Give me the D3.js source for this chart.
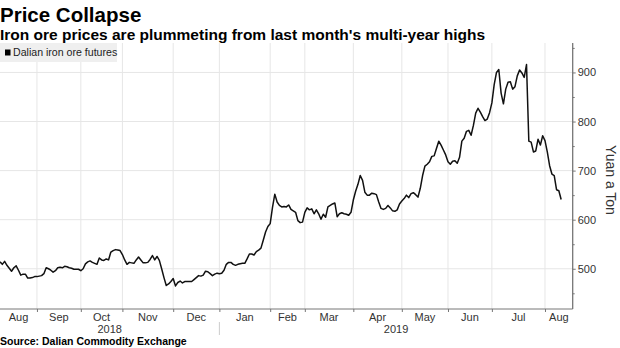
<!DOCTYPE html>
<html>
<head>
<meta charset="utf-8">
<script src="https://cdn.jsdelivr.net/npm/d3@7"></script>
<style>
  html, body { margin: 0; padding: 0; background: #fff; }
  svg { display: block; }
</style>
</head>
<body>
<svg id="chart" width="620" height="348"></svg>
<script>
// ---- Data ----
const title = "Price Collapse";
const subtitle = "Iron ore prices are plummeting from last month's multi-year highs";
const sourceText = "Source: Dalian Commodity Exchange";
const seriesName = "Dalian iron ore futures";
const axisTitle = "Yuan a Ton";

// month labels and number of trading days in each month shown (axis categories)
const monthLabels = ["Aug","Sep","Oct","Nov","Dec","Jan","Feb","Mar","Apr","May","Jun","Jul","Aug"];
const monthTradingDays = [16,19,18,22,20,22,15,21,21,20,19,23,12];
const yearLabels = ["2018","2019"];
const yearMonthCounts = [5, 8];

const yTicks = [500, 600, 700, 800, 900];
const yMinorTicks = [450, 550, 650, 750, 850, 950];
const yDomain = [418, 960];

// daily settlement (yuan/ton), one value per trading day from Aug 2018
const prices = [
  514,509,515,507,501,495,502,506,497,487,489,489,481,481,482,484,484,485,486,490,
  502,500,497,493,496,502,503,502,505,504,502,501,499,499,499,496,500,510,514,516,
  513,511,509,522,518,517,520,518,534,537,539,538,537,529,518,509,513,512,511,518,
  524,518,512,512,513,519,527,518,525,517,500,482,466,469,474,480,465,472,475,471,
  474,474,474,474,478,482,486,485,487,495,494,490,486,489,491,490,491,497,509,513,
  513,509,507,509,510,511,511,520,530,530,528,535,538,542,558,575,586,592,625,652,
  636,629,626,627,626,630,621,618,615,598,594,595,615,624,620,622,612,620,612,601,
  611,605,626,629,632,634,606,612,614,612,611,609,615,640,658,672,690,680,656,650,
  650,654,653,651,636,623,621,623,629,624,618,617,620,632,638,643,650,645,653,655,
  651,646,664,690,709,713,718,729,730,745,760,752,742,732,718,713,719,720,715,727,
  760,766,780,782,772,792,817,827,819,810,802,805,818,838,875,900,906,858,836,866,
  880,881,866,871,893,905,899,890,916,760,758,738,740,764,752,771,761,738,710,693,
  690,661,659,641
];

// ---- Layout ----
const svg = d3.select("#chart");
const plot = { left: 0, right: 572.7, top: 43, bottom: 309 };
const FONT = "Liberation Sans, Arial, sans-serif";

const monthEnds = d3.cumsum(monthTradingDays);
const monthStarts = [0, ...Array.from(monthEnds).slice(0, -1)];
const totalDays = monthEnds[monthEnds.length - 1];

const x = d3.scaleLinear().domain([0, totalDays]).range([plot.left, plot.right]);
const y = d3.scaleLinear().domain(yDomain).range([plot.bottom, plot.top]);

// gridlines
const grid = svg.append("g");
grid.selectAll("line.h").data(yTicks).join("line")
  .attr("x1", plot.left).attr("x2", plot.right)
  .attr("y1", d => y(d)).attr("y2", d => y(d))
  .attr("stroke", "#e6e6e6").attr("stroke-width", 1);
grid.selectAll("line.v").data(monthEnds.slice(0, -1)).join("line")
  .attr("x1", d => x(d)).attr("x2", d => x(d))
  .attr("y1", plot.top).attr("y2", plot.bottom)
  .attr("stroke", "#e6e6e6").attr("stroke-width", 1);

// legend
const lg = svg.append("g");
lg.append("rect").attr("x", 0).attr("y", 43).attr("width", 117).attr("height", 19).attr("fill", "#efefef");
lg.append("rect").attr("x", 5).attr("y", 49.5).attr("width", 5.5).attr("height", 6).attr("fill", "#000");
lg.append("text").attr("x", 13).attr("y", 56)
  .attr("font-family", FONT).attr("font-size", 10.6)
  .attr("fill", "#222").text(seriesName);

// line
svg.append("path").datum(prices)
  .attr("fill", "none").attr("stroke", "#111").attr("stroke-width", 1.5)
  .attr("stroke-linejoin", "round")
  .attr("d", d3.line().x((d, i) => x(i)).y(d => y(d)));

// right axis
const yAxisG = svg.append("g").attr("transform", `translate(${plot.right},0)`);
yAxisG.call(d3.axisRight(y).tickValues(yTicks).tickSize(3).tickPadding(2).tickFormat(d3.format("d")));
yAxisG.append("g").call(d3.axisRight(y).tickValues(yMinorTicks).tickSize(2).tickFormat(""));
yAxisG.selectAll(".domain").attr("stroke", "#777").attr("d", `M0,${plot.top}V${plot.bottom}`);
yAxisG.selectAll(".tick line").attr("stroke", "#777");
yAxisG.selectAll("text").attr("font-family", FONT)
  .attr("font-size", 11).attr("fill", "#333");

svg.append("text")
  .attr("transform", `translate(606,180) rotate(90)`)
  .attr("text-anchor", "middle")
  .attr("font-family", FONT).attr("font-size", 14)
  .attr("fill", "#333").text(axisTitle);

// bottom axis
const xAxisG = svg.append("g").attr("transform", `translate(0,${plot.bottom})`);
xAxisG.call(d3.axisBottom(x).tickValues(monthEnds.slice(0, -1)).tickSize(3).tickFormat(""));
xAxisG.selectAll(".domain").attr("stroke", "#777").attr("d", `M${plot.left},0H${plot.right}`);
xAxisG.selectAll(".tick line").attr("stroke", "#777");

svg.append("g").selectAll("text").data(monthLabels).join("text")
  .attr("x", (d, i) => x((monthStarts[i] + monthEnds[i]) / 2))
  .attr("y", 320.5)
  .attr("text-anchor", "middle")
  .attr("font-family", FONT).attr("font-size", 11)
  .attr("fill", "#333").text(d => d);

// year labels
let mIdx = 0;
const yearSpans = yearLabels.map((lab, k) => {
  const s = monthStarts[mIdx];
  mIdx += yearMonthCounts[k];
  const e = monthEnds[mIdx - 1];
  return { lab, s, e };
});
svg.append("g").selectAll("text").data(yearSpans).join("text")
  .attr("x", d => x((d.s + d.e) / 2)).attr("y", 333)
  .attr("text-anchor", "middle")
  .attr("font-family", FONT).attr("font-size", 11)
  .attr("fill", "#333").text(d => d.lab);
svg.append("g").selectAll("line").data(yearSpans.slice(1)).join("line")
  .attr("x1", d => x(d.s)).attr("x2", d => x(d.s))
  .attr("y1", 322).attr("y2", 335)
  .attr("stroke", "#ccc");

// titles
svg.append("text").attr("x", 0).attr("y", 22)
  .attr("font-family", FONT).attr("font-weight", "bold")
  .attr("font-size", 20.5).attr("fill", "#000").text(title);
svg.append("text").attr("x", 0).attr("y", 39.5)
  .attr("font-family", FONT).attr("font-weight", "bold")
  .attr("font-size", 15.5).attr("fill", "#000").text(subtitle);
svg.append("text").attr("x", 0).attr("y", 345)
  .attr("font-family", FONT).attr("font-weight", "bold")
  .attr("font-size", 10.5).attr("fill", "#000").text(sourceText);
</script>
</body>
</html>
